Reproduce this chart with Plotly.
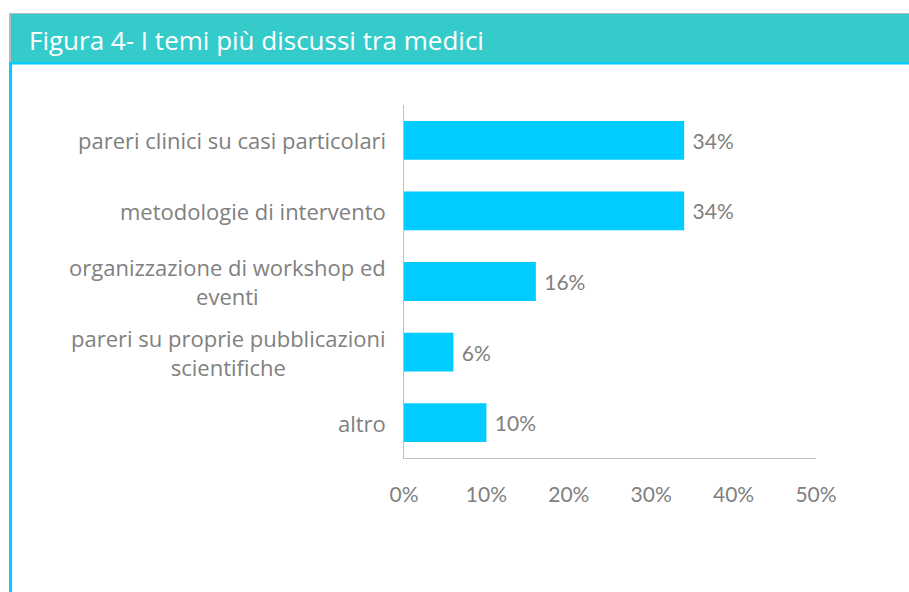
import plotly.graph_objects as go

categories = [
    "pareri clinici su casi particolari",
    "metodologie di intervento",
    "organizzazione di workshop ed<br>eventi",
    "pareri su proprie pubblicazioni<br>scientifiche",
    "altro",
]
values = [34, 34, 16, 6, 10]
tick_vals = [0, 10, 20, 30, 40, 50]
tick_text = ["0%", "10%", "20%", "30%", "40%", "50%"]
title_text = "Figura 4- I temi più discussi tra medici"

W, H = 909, 592
L, R, T, B = 404, 816, 105, 458
FONT = "'Open Sans', sans-serif"
NUMFONT = "Lato, sans-serif"
GRAY = "#808080"


def px(x):
    return (x - L) / (R - L)


def py(y):
    return (B - y) / (B - T)


fig = go.Figure(
    go.Bar(
        x=values,
        y=list(range(len(categories))),
        orientation="h",
        marker=dict(color="#00CCFF", line=dict(width=0)),
        text=[f"\u00a0{v}%" for v in values],
        textposition="outside",
        textfont=dict(family=NUMFONT, size=21, color=GRAY),
        cliponaxis=False,
        hoverinfo="skip",
    )
)

shapes = [
    dict(type="rect", xref="paper", yref="paper", x0=px(9), x1=px(915), y0=py(13), y1=py(62),
         fillcolor="#B8B8B8", line=dict(width=0), layer="below"),
    dict(type="rect", xref="paper", yref="paper", x0=px(11), x1=px(915), y0=py(14), y1=py(62),
         fillcolor="#36CBCB", line=dict(width=0), layer="below"),
    dict(type="rect", xref="paper", yref="paper", x0=px(9), x1=px(915), y0=py(62), y1=py(64.5),
         fillcolor="#00CCFF", line=dict(width=0), layer="below"),
    dict(type="rect", xref="paper", yref="paper", x0=px(9), x1=px(12), y0=py(62), y1=py(600),
         fillcolor="#00CCFF", line=dict(width=0), layer="below"),
]

annotations = [
    dict(text=title_text, xref="paper", yref="paper", x=px(27), y=py(40),
         xanchor="left", yanchor="middle", showarrow=False,
         font=dict(family=FONT, size=26, color="white")),
]
for i, c in enumerate(categories):
    annotations.append(
        dict(text=c, xref="paper", yref="y", x=0, y=i, xshift=-16,
             xanchor="right", yanchor="middle", align="center", showarrow=False,
             font=dict(family=FONT, size=22, color=GRAY))
    )

fig.update_layout(
    width=W, height=H,
    margin=dict(l=L, r=W - R, t=T, b=H - B, pad=0),
    paper_bgcolor="white", plot_bgcolor="white",
    bargap=0.45,
    showlegend=False,
    hovermode=False,
    shapes=shapes,
    annotations=annotations,
    xaxis=dict(range=[0, 50], tickvals=tick_vals, ticktext=tick_text,
               showgrid=False, zeroline=False, showline=True, linecolor="#BFBFBF", linewidth=1.3,
               ticks="", ticklabelstandoff=17,
               tickfont=dict(family=NUMFONT, size=21, color=GRAY), fixedrange=True),
    yaxis=dict(range=[len(categories) - 0.5, -0.5], showticklabels=False,
               showgrid=False, zeroline=False, showline=True, linecolor="#BFBFBF", linewidth=1.3,
               ticks="", fixedrange=True),
)

fig.write_html(
    "out.html",
    config={"displayModeBar": False, "staticPlot": True},
    post_script="document.body.style.margin='0';document.body.style.overflow='hidden';",
)
